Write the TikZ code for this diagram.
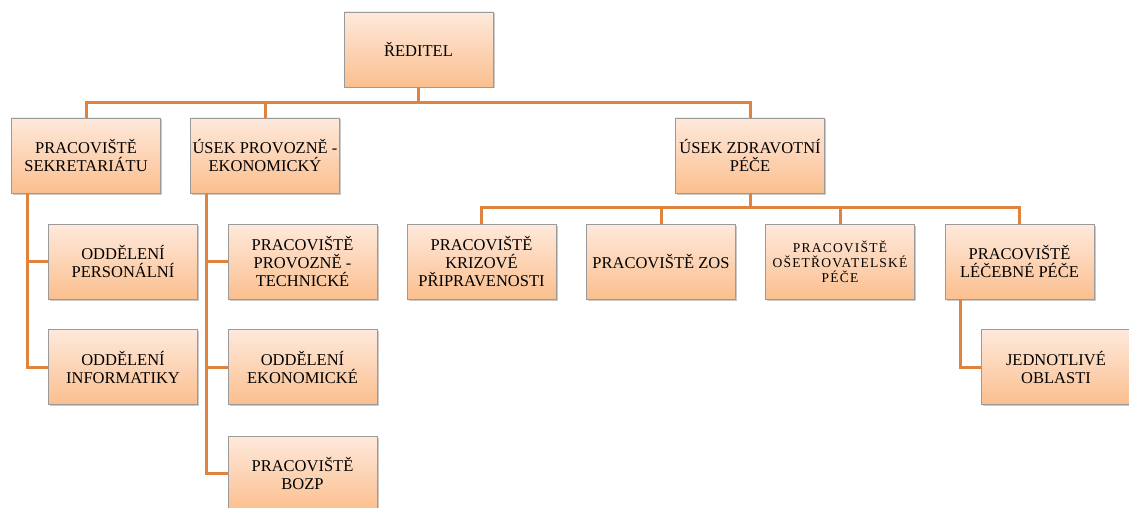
\documentclass[tikz,border=0pt]{standalone}
\usepackage{fontspec}
\setmainfont{Liberation Serif}
\newfontfamily\tnr{Liberation Serif}
\newfontfamily\tnrwide[LetterSpace=9]{Liberation Serif}
\usetikzlibrary{shadows}
\definecolor{boxtop}{HTML}{FEE9DC}
\definecolor{boxbot}{HTML}{FBBF8E}
\definecolor{boxline}{HTML}{9A9A9A}
\definecolor{conn}{HTML}{E0833F}
\tikzset{
  orgbox/.style={rectangle, draw=boxline, line width=0.8pt, top color=boxtop, bottom color=boxbot,
    minimum width=149pt, minimum height=75pt, inner sep=0pt, align=center,
    font=\tnr\fontsize{16.5}{18}\selectfont,
    drop shadow={shadow xshift=1.5pt, shadow yshift=-1.5pt, opacity=0.35, fill=black!60}},
  smalltext/.style={font=\tnrwide\fontsize{13.5}{15}\selectfont},
  link/.style={draw=conn, line width=3pt}
}
\begin{document}
\begin{tikzpicture}[x=1pt,y=-1pt]
\useasboundingbox (0,0) rectangle (1129,508);
% nodes
\node[orgbox] (red) at (418.5,49.5) {ŘEDITEL};
\node[orgbox] (sek) at (86,155.5) {PRACOVIŠTĚ\\SEKRETARIÁTU};
\node[orgbox] (prov) at (265,155.5) {ÚSEK PROVOZNĚ -\\EKONOMICKÝ};
\node[orgbox] (zdr) at (750,155.5) {ÚSEK ZDRAVOTNÍ\\PÉČE};
\node[orgbox] (pers) at (123,261.5) {ODDĚLENÍ\\PERSONÁLNÍ};
\node[orgbox] (info) at (123,367) {ODDĚLENÍ\\INFORMATIKY};
\node[orgbox] (tech) at (302.5,261.5) {PRACOVIŠTĚ\\PROVOZNĚ -\\TECHNICKÉ};
\node[orgbox] (eko) at (302.5,367) {ODDĚLENÍ\\EKONOMICKÉ};
\node[orgbox] (bozp) at (302.5,473.5) {PRACOVIŠTĚ\\BOZP};
\node[orgbox] (kriz) at (481.5,261.5) {PRACOVIŠTĚ\\KRIZOVÉ\\PŘIPRAVENOSTI};
\node[orgbox] (zos) at (661,261.5) {PRACOVIŠTĚ ZOS};
\node[orgbox, smalltext] (oset) at (840,261.5) {PRACOVIŠTĚ\\OŠETŘOVATELSKÉ\\PÉČE};
\node[orgbox] (lec) at (1019.5,261.5) {PRACOVIŠTĚ\\LÉČEBNÉ PÉČE};
\node[orgbox] (jed) at (1056,367) {JEDNOTLIVÉ\\OBLASTI};
% connectors
\draw[link] (red.south) -- ++(0,16);
\draw[link] (sek.north) -- ++(0,-15) -| (zdr.north);
\draw[link] (prov.north) -- ++(0,-15);
\draw[link] (zdr.south) -- ++(0,15);
\draw[link] (kriz.north) -- ++(0,-16) -| (lec.north);
\draw[link] (zos.north) -- ++(0,-16);
\draw[link] (oset.north) -- ++(0,-16);
\draw[link] ([xshift=16pt]sek.south west) |- (info.west);
\draw[link] ([xshift=16pt]sek.south west) |- (pers.west);
\draw[link] ([xshift=16pt]prov.south west) |- (bozp.west);
\draw[link] ([xshift=16pt]prov.south west) |- (eko.west);
\draw[link] ([xshift=16pt]prov.south west) |- (tech.west);
\draw[link] ([xshift=16pt]lec.south west) |- (jed.west);
\end{tikzpicture}
\end{document}
